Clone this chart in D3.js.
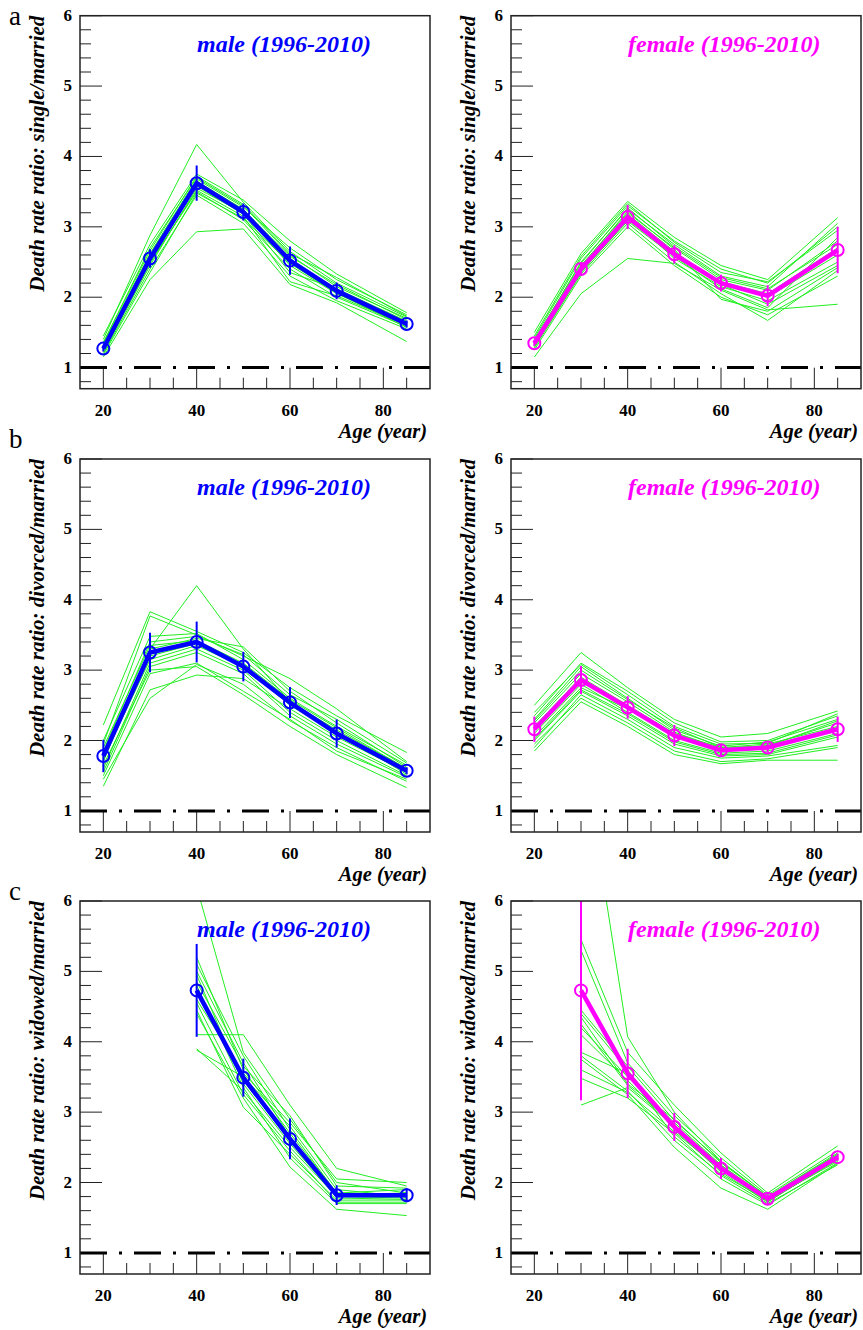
<!DOCTYPE html>
<html>
<head>
<meta charset="utf-8">
<script src="https://cdn.jsdelivr.net/npm/d3@7"></script>
<style>
  body { margin: 0; background: #fff; }
  svg { display: block; }
</style>
</head>
<body>
<div id="chart"></div>
<script>
// ages of the bins
const ages = [20, 30, 40, 50, 60, 70, 85];

// single / married
const singleMale = [1.27, 2.55, 3.62, 3.21, 2.52, 2.09, 1.62];
const singleMaleErr = [0.04, 0.13, 0.25, 0.12, 0.2, 0.12, 0.05];
const singleMaleYears = [
  [1.30, 2.60, 3.65, 3.25, 2.55, 2.10, 1.65],
  [1.22, 2.45, 3.55, 3.20, 2.45, 2.05, 1.60],
  [1.35, 2.70, 3.70, 3.30, 2.60, 2.15, 1.70],
  [1.15, 2.25, 2.93, 2.97, 2.18, 1.92, 1.37],
  [1.40, 2.88, 4.17, 3.35, 2.65, 2.20, 1.72],
  [1.25, 2.50, 3.50, 3.10, 2.40, 2.00, 1.58],
  [1.28, 2.55, 3.60, 3.22, 2.50, 2.08, 1.63],
  [1.33, 2.62, 3.68, 3.28, 2.70, 2.25, 1.75],
  [1.20, 2.40, 3.45, 3.05, 2.30, 1.95, 1.55],
  [1.45, 2.75, 3.75, 3.38, 2.80, 2.33, 1.78],
  [1.27, 2.52, 3.58, 3.18, 2.35, 2.12, 1.66],
  [1.24, 2.48, 3.52, 3.15, 2.22, 2.02, 1.60],
  [1.31, 2.58, 3.64, 3.24, 2.58, 2.18, 1.68],
  [1.36, 2.66, 3.72, 3.32, 2.62, 2.28, 1.73],
  [1.18, 2.35, 3.48, 3.12, 2.48, 2.06, 1.57]
];
const singleFemale = [1.345, 2.40, 3.14, 2.61, 2.20, 2.02, 2.67];
const singleFemaleErr = [0.04, 0.08, 0.17, 0.13, 0.12, 0.15, 0.33];
const singleFemaleYears = [
  [1.15, 2.05, 2.55, 2.48, 2.10, 1.82, 1.90],
  [1.30, 2.35, 3.10, 2.60, 2.20, 2.00, 2.60],
  [1.40, 2.45, 3.20, 2.70, 2.25, 2.10, 2.80],
  [1.50, 2.62, 3.36, 2.85, 2.45, 2.25, 3.13],
  [1.35, 2.40, 3.15, 2.55, 2.15, 1.95, 2.50],
  [1.25, 2.30, 3.00, 2.45, 2.00, 1.75, 2.30],
  [1.38, 2.50, 3.25, 2.75, 2.30, 2.15, 3.05],
  [1.32, 2.38, 3.12, 2.62, 2.22, 2.05, 2.70],
  [1.28, 2.33, 3.05, 2.50, 2.05, 1.67, 2.38],
  [1.42, 2.55, 3.30, 2.80, 2.40, 2.20, 3.00],
  [1.36, 2.42, 3.18, 2.65, 2.18, 1.90, 2.45],
  [1.33, 2.36, 3.08, 2.58, 2.12, 1.85, 2.85],
  [1.45, 2.58, 3.33, 2.78, 2.35, 2.22, 2.95],
  [1.30, 2.44, 3.22, 2.68, 1.97, 1.80, 2.42],
  [1.39, 2.48, 3.27, 2.72, 2.28, 2.12, 2.75]
];

// divorced / married
const divorcedMale = [1.78, 3.25, 3.40, 3.05, 2.54, 2.10, 1.57];
const divorcedMaleErr = [0.23, 0.28, 0.29, 0.21, 0.22, 0.20, 0.05];
const divorcedMaleYears = [
  [2.22, 3.83, 3.55, 3.25, 2.75, 2.35, 1.83],
  [1.95, 3.77, 3.50, 3.20, 2.88, 2.45, 1.70],
  [1.35, 2.72, 2.93, 2.88, 2.45, 2.05, 1.55],
  [1.70, 3.30, 4.20, 3.30, 2.55, 2.15, 1.60],
  [1.60, 3.10, 3.30, 3.00, 2.40, 2.00, 1.50],
  [1.80, 3.30, 3.45, 3.33, 2.70, 2.25, 1.62],
  [1.50, 2.95, 3.10, 2.70, 2.30, 1.85, 1.45],
  [2.00, 3.48, 3.52, 3.15, 2.60, 2.20, 1.65],
  [1.75, 3.15, 3.35, 3.05, 2.50, 2.10, 1.58],
  [1.65, 3.00, 3.05, 2.65, 2.20, 1.80, 1.33],
  [1.85, 3.40, 3.48, 3.22, 2.65, 2.30, 1.68],
  [1.55, 3.05, 3.25, 2.95, 2.35, 1.95, 1.48],
  [1.90, 3.35, 3.42, 3.10, 2.58, 2.18, 1.60],
  [1.72, 3.20, 3.38, 3.08, 2.52, 2.12, 1.52],
  [1.45, 2.60, 3.08, 2.80, 2.28, 1.90, 1.42]
];
const divorcedFemale = [2.16, 2.86, 2.47, 2.07, 1.86, 1.90, 2.16];
const divorcedFemaleErr = [0.18, 0.20, 0.16, 0.15, 0.08, 0.07, 0.18];
const divorcedFemaleYears = [
  [2.50, 3.25, 2.75, 2.30, 2.05, 2.10, 2.42],
  [1.85, 2.55, 2.20, 1.80, 1.67, 1.72, 1.72],
  [2.35, 3.10, 2.70, 2.25, 1.98, 2.00, 2.35],
  [2.00, 2.70, 2.35, 1.95, 1.78, 1.80, 2.05],
  [2.20, 2.90, 2.50, 2.10, 1.90, 1.95, 2.20],
  [2.10, 2.80, 2.40, 2.00, 1.82, 1.85, 2.10],
  [2.30, 3.05, 2.60, 2.15, 1.92, 1.98, 2.30],
  [1.95, 2.60, 2.25, 1.85, 1.70, 1.74, 1.90],
  [2.25, 2.95, 2.55, 2.12, 1.88, 1.93, 2.25],
  [2.05, 2.75, 2.45, 2.05, 1.85, 1.88, 2.15],
  [2.40, 3.08, 2.65, 2.20, 1.95, 1.96, 2.38],
  [1.90, 2.65, 2.30, 1.90, 1.75, 1.78, 1.93],
  [2.15, 2.85, 2.48, 2.08, 1.86, 1.90, 2.18],
  [2.28, 3.00, 2.58, 2.18, 1.90, 1.92, 2.28],
  [2.02, 2.72, 2.38, 1.98, 1.80, 1.82, 2.08]
];

// widowed / married (no value for the young bins)
const widowedMale = [null, null, 4.73, 3.49, 2.62, 1.82, 1.82];
const widowedMaleErr = [null, null, 0.66, 0.27, 0.29, 0.14, 0.10];
const widowedMaleYears = [
  [null, null, 6.20, 3.85, 2.90, 2.00, 1.85],
  [null, null, 5.20, 3.60, 2.70, 1.85, 1.90],
  [null, null, 4.10, 4.10, 3.10, 2.20, 1.95],
  [null, null, 3.88, 3.50, 2.80, 1.90, 1.80],
  [null, null, 4.95, 3.40, 2.55, 1.80, 1.78],
  [null, null, 4.45, 3.07, 2.40, 1.75, 1.75],
  [null, null, 5.00, 3.70, 2.65, 1.83, 1.85],
  [null, null, 4.60, 3.55, 2.85, 2.05, 2.00],
  [null, null, 4.80, 3.35, 2.35, 1.70, 1.70],
  [null, null, 4.40, 3.20, 2.22, 1.62, 1.53],
  [null, null, 5.10, 3.80, 2.75, 1.85, 1.82],
  [null, null, 4.70, 3.45, 2.60, 1.78, 1.76],
  [null, null, 3.90, 3.30, 2.50, 1.80, 1.85],
  [null, null, 4.85, 3.65, 2.95, 1.95, 1.92],
  [null, null, 4.55, 3.25, 2.45, 1.72, 1.72]
];
const widowedFemale = [null, 4.73, 3.55, 2.79, 2.20, 1.77, 2.36];
const widowedFemaleErr = [null, 1.56, 0.35, 0.20, 0.15, 0.08, 0.05];
const widowedFemaleYears = [
  [null, 8.30, 4.07, 3.00, 2.30, 1.80, 2.40],
  [null, 5.45, 3.85, 3.10, 2.42, 1.85, 2.52],
  [null, 5.30, 3.70, 2.95, 2.35, 1.82, 2.45],
  [null, 3.10, 3.35, 2.80, 2.20, 1.75, 2.30],
  [null, 4.40, 3.60, 2.75, 2.15, 1.72, 2.35],
  [null, 3.48, 3.20, 2.70, 2.10, 1.70, 2.25],
  [null, 4.20, 3.50, 2.85, 2.25, 1.78, 2.38],
  [null, 3.80, 3.30, 2.60, 2.05, 1.68, 2.28],
  [null, 4.35, 3.40, 2.90, 2.28, 1.80, 2.42],
  [null, 3.75, 3.25, 2.50, 1.92, 1.62, 2.27],
  [null, 4.10, 3.45, 2.78, 2.22, 1.76, 2.36],
  [null, 3.85, 3.55, 2.65, 2.12, 1.74, 2.32],
  [null, 4.45, 3.65, 2.88, 2.30, 1.79, 2.40],
  [null, 3.60, 3.28, 2.72, 2.18, 1.73, 2.33],
  [null, 4.25, 3.38, 2.82, 2.24, 1.77, 2.35]
];

const xTicks = [20, 40, 60, 80];
const yTicks = [1, 2, 3, 4, 5, 6];
const rowLetters = ['a', 'b', 'c'];
const rowTitles = ['single/married', 'divorced/married', 'widowed/married'];
const sexLabels = ['male (1996-2010)', 'female (1996-2010)'];
const sexColors = ['#0000ff', '#ff00ff'];

const panels = [
  {row: 0, col: 0, mean: singleMale, err: singleMaleErr, years: singleMaleYears},
  {row: 0, col: 1, mean: singleFemale, err: singleFemaleErr, years: singleFemaleYears},
  {row: 1, col: 0, mean: divorcedMale, err: divorcedMaleErr, years: divorcedMaleYears},
  {row: 1, col: 1, mean: divorcedFemale, err: divorcedFemaleErr, years: divorcedFemaleYears},
  {row: 2, col: 0, mean: widowedMale, err: widowedMaleErr, years: widowedMaleYears},
  {row: 2, col: 1, mean: widowedFemale, err: widowedFemaleErr, years: widowedFemaleYears}
];

const serif = '"Liberation Serif", serif';
const W = 863, H = 1330;
const frameW = 350, frameH = 373;
const colLeft = [80, 511];
const rowTop = [15.7, 459, 901];
const letterY = [25, 448, 900];

const svg = d3.select('#chart').append('svg')
  .attr('width', W).attr('height', H);

const x = d3.scaleLinear().domain([15, 90]).range([0, frameW]);
const y = d3.scaleLinear().domain([0.7, 6]).range([frameH, 0]);

// panel letters
rowLetters.forEach((l, i) => {
  svg.append('text')
    .attr('x', 9).attr('y', letterY[i])
    .style('font-family', serif)
    .style('font-size', '27px')
    .text(l);
});

function boldText(sel, size, italic) {
  return sel.style('font-family', serif)
    .style('font-weight', 'bold')
    .style('font-style', italic ? 'italic' : 'normal')
    .style('font-size', size + 'px');
}

panels.forEach((p, idx) => {
  const color = sexColors[p.col];
  const g = svg.append('g')
    .attr('transform', `translate(${colLeft[p.col]},${rowTop[p.row]})`);

  const clipId = 'clip' + idx;
  g.append('clipPath').attr('id', clipId)
    .append('rect').attr('width', frameW).attr('height', frameH);

  // axis ticks (ROOT style, inside the frame)
  const yMinor = d3.range(0.8, 6.001, 0.2).filter(v => Math.abs(v - Math.round(v)) > 0.01);
  g.selectAll('.ymaj').data(yTicks).enter().append('line')
    .attr('x1', 0).attr('x2', 22)
    .attr('y1', d => y(d)).attr('y2', d => y(d))
    .attr('stroke', '#222').attr('stroke-width', 1);
  g.selectAll('.ymin').data(yMinor).enter().append('line')
    .attr('x1', 0).attr('x2', 11)
    .attr('y1', d => y(d)).attr('y2', d => y(d))
    .attr('stroke', '#222').attr('stroke-width', 1);
  const xMinor = d3.range(20, 90, 5).filter(v => v % 20 !== 0);
  g.selectAll('.xmaj').data(xTicks).enter().append('line')
    .attr('x1', d => x(d)).attr('x2', d => x(d))
    .attr('y1', frameH).attr('y2', frameH - 21)
    .attr('stroke', '#222').attr('stroke-width', 1);
  g.selectAll('.xmin').data(xMinor).enter().append('line')
    .attr('x1', d => x(d)).attr('x2', d => x(d))
    .attr('y1', frameH).attr('y2', frameH - 11)
    .attr('stroke', '#222').attr('stroke-width', 1);

  // tick labels
  boldText(g.selectAll('.ylab').data(yTicks).enter().append('text'), 17, false)
    .attr('x', -8).attr('y', d => y(d) + 5)
    .attr('text-anchor', 'end')
    .text(d => d);
  boldText(g.selectAll('.xlab').data(xTicks).enter().append('text'), 17, false)
    .attr('x', d => x(d)).attr('y', frameH + 27)
    .attr('text-anchor', 'middle')
    .text(d => d);

  // axis titles
  boldText(g.append('text'), 21, true)
    .attr('transform', `translate(${-36},0) rotate(-90)`)
    .attr('text-anchor', 'end')
    .text('Death rate ratio: ' + rowTitles[p.row]);
  boldText(g.append('text'), 20.5, true)
    .attr('x', frameW - 3).attr('y', frameH + 49)
    .attr('text-anchor', 'end')
    .text('Age (year)');

  // reference line at 1
  g.append('line')
    .attr('x1', 0).attr('x2', frameW)
    .attr('y1', y(1)).attr('y2', y(1))
    .attr('stroke', '#000').attr('stroke-width', 3)
    .attr('stroke-dasharray', '27,12,3,12');

  const plot = g.append('g').attr('clip-path', `url(#${clipId})`);

  const line = d3.line()
    .defined(d => d != null)
    .x((d, i) => x(ages[i]))
    .y(d => y(d));

  // one green line per year
  plot.selectAll('.year').data(p.years).enter().append('path')
    .attr('d', line)
    .attr('fill', 'none')
    .attr('stroke', '#22ee22')
    .attr('stroke-width', 1);

  // average curve
  plot.append('path')
    .attr('d', line(p.mean))
    .attr('fill', 'none')
    .attr('stroke', color)
    .attr('stroke-width', 4.5)
    .attr('stroke-linejoin', 'round');

  const pts = p.mean.map((v, i) => ({age: ages[i], v: v, e: p.err[i]})).filter(d => d.v != null);
  plot.selectAll('.err').data(pts).enter().append('line')
    .attr('x1', d => x(d.age)).attr('x2', d => x(d.age))
    .attr('y1', d => y(d.v - d.e)).attr('y2', d => y(d.v + d.e))
    .attr('stroke', color).attr('stroke-width', 2);
  plot.selectAll('.pt').data(pts).enter().append('circle')
    .attr('cx', d => x(d.age)).attr('cy', d => y(d.v))
    .attr('r', 6)
    .attr('fill', 'none')
    .attr('stroke', color).attr('stroke-width', 2);

  // label
  boldText(g.append('text'), 24, true)
    .attr('x', 117).attr('y', 36)
    .attr('fill', color)
    .text(sexLabels[p.col]);

  // frame
  g.append('rect')
    .attr('width', frameW).attr('height', frameH)
    .attr('fill', 'none')
    .attr('stroke', '#222').attr('stroke-width', 1.5);
});
</script>
</body>
</html>
